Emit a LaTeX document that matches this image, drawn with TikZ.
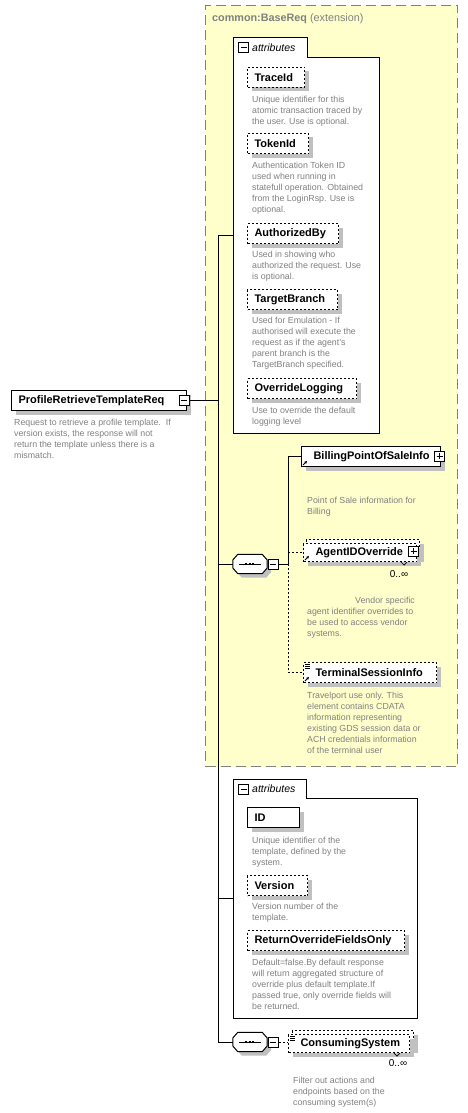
\documentclass[tikz,border=0pt]{standalone}
\usepackage{fontspec}
\setmainfont{Liberation Sans}
\usetikzlibrary{shadows,arrows.meta}
\definecolor{extfill}{HTML}{FFFFCC}
\definecolor{extdash}{HTML}{808080}
\definecolor{notegray}{HTML}{808080}
\definecolor{shadegray}{HTML}{C0C0C0}
\newcommand\xsdlabel{\fontsize{11}{13}\selectfont\bfseries}
\newcommand\xsdnote{\fontsize{8.8}{11}\selectfont}
\tikzset{
  wire/.style={line width=1pt},
  optwire/.style={wire, dash pattern=on 2pt off 2pt},
  shade/.style={drop shadow={shadow xshift=4pt, shadow yshift=-4pt, fill=shadegray, opacity=1}},
  elem/.style={draw=black, fill=white, line width=1pt, shade, anchor=north west, minimum height=20pt, inner xsep=7pt, inner ysep=0pt, text width=#1, align=left, font=\xsdlabel},
  optelem/.style={elem=#1, dash pattern=on 2pt off 2pt},
  notetext/.style={anchor=north west, inner sep=0pt, align=left, text=notegray, font=\xsdnote, execute at begin node={\rule{0pt}{7pt}}},
  occurs/.style={inner sep=0pt, font=\fontsize{10}{12}\selectfont},
  extframe/.style={draw=extdash, fill=extfill, line width=1pt, dash pattern=on 10pt off 5pt, anchor=north west, inner sep=0pt},
  attrarea/.style={anchor=north west, inner sep=0pt},
  attrtab/.style={anchor=north west, inner sep=0pt, minimum height=19pt, minimum width=74pt},
  frame/.style={draw=black, fill=white, line width=1pt},
  togglebox/.style={draw=black, fill=white, line width=1pt, minimum size=10pt, inner sep=0pt},
  collapsebox/.style={togglebox, path picture={
      \draw[line width=1pt] ([xshift=2pt]path picture bounding box.west) -- ([xshift=-2pt]path picture bounding box.east);}},
  expandbox/.style={togglebox, path picture={
      \draw[line width=1pt] ([xshift=2pt]path picture bounding box.west) -- ([xshift=-2pt]path picture bounding box.east);
      \draw[line width=1pt] ([yshift=-2pt]path picture bounding box.north) -- ([yshift=2pt]path picture bounding box.south);}},
  compositor/.style={minimum width=34pt, minimum height=19pt, inner sep=0pt}
}
\newcommand\refmark[1]{\draw[line width=0.8pt, -{Triangle[length=2.5pt,width=2.5pt]}] ([xshift=2pt,yshift=2pt]#1.south west) -- ++(4,-4);}
\newcommand\listmark[1]{\foreach \k in {2,4,6} \draw[line width=0.7pt] ([xshift=2pt,yshift=-\k pt]#1.north west) -- ++(5,0);}
\newcommand\seqmark[1]{%
  \draw[frame, shade] ([yshift=4pt]#1.west) -- ([xshift=5pt]#1.north west) -- ([xshift=-5pt]#1.north east) -- ([yshift=4pt]#1.east)
    -- ([yshift=-4pt]#1.east) -- ([xshift=-5pt]#1.south east) -- ([xshift=5pt]#1.south west) -- ([yshift=-4pt]#1.west) -- cycle;
  \draw[wire] ([xshift=6pt]#1.west) -- ([xshift=-6pt]#1.east);
  \draw[line width=2.2pt, dash pattern=on 2pt off 1.5pt] ([xshift=-5pt]#1.center) -- ([xshift=5pt]#1.center);}

\begin{document}
\begin{tikzpicture}[x=1pt,y=-1pt]
  \useasboundingbox (0,0) rectangle (468,1113);

  % extension base
  \node[extframe, minimum width=252pt, minimum height=761pt] (baseReq) at (205,5) {};
  \node[anchor=west, inner sep=0pt, text=notegray, font=\fontsize{10.8}{12}\selectfont] (baseReqTitle) at (212,19) {\textbf{common:BaseReq} (extension)};

  % inherited attributes
  \node[attrarea, minimum width=146pt, minimum height=395pt] (baseAttrs) at (233,38) {};
  \node[attrtab] (baseTab) at (233,38) {};
  \draw[frame] (baseAttrs.south west) |- (baseTab.north east) |- (baseTab.south east -| baseAttrs.east) -- (baseAttrs.south east) -- cycle;
  \node[collapsebox] (baseTabT) at (243.5,48) {};
  \node[anchor=west, inner sep=0pt, font=\fontsize{10.5}{12}\selectfont\itshape] at (252,48) {attributes};

  \node[optelem=43pt] (traceId) at (247,67) {TraceId};
  \node[notetext] at (252,96) {Unique identifier for this\\atomic transaction traced by\\the user. Use is optional.};
  \node[optelem=47pt] (tokenId) at (247,133) {TokenId};
  \node[notetext] at (252,162) {Authentication Token ID\\used when running in\\statefull operation. Obtained\\from the LoginRsp. Use is\\optional.};
  \node[optelem=77pt] (authorizedBy) at (247,223) {AuthorizedBy};
  \node[notetext] at (252,251) {Used in showing who\\authorized the request. Use\\is optional.};
  \node[optelem=76pt] (targetBranch) at (247,289) {TargetBranch};
  \node[notetext] at (252,317) {Used for Emulation - If\\authorised will execute the\\request as if the agent's\\parent branch is the\\TargetBranch specified.};
  \node[optelem=95pt] (overrideLogging) at (247,378) {OverrideLogging};
  \node[notetext] at (252,407) {Use to override the default\\logging level};

  % root element
  \node[elem=161pt] (root) at (11,390) {ProfileRetrieveTemplateReq};
  \node[collapsebox] (rootT) at (184,400) {};
  \node[notetext] at (14,419) {Request to retrieve a profile template.\ \ If\\version exists, the response will not\\return the template unless there is a\\mismatch.};

  % inherited sequence
  \node[compositor] (baseSeq) at (250,564) {};
  \seqmark{baseSeq}
  \node[collapsebox] (baseSeqT) at (273,564) {};
  \coordinate (baseFork) at (288,564);

  \node[elem=125pt] (billing) at (301,446) {\hspace*{5pt}BillingPointOfSaleInfo};
  \node[expandbox] (billingT) at (439.5,456) {};
  \refmark{billing}
  \node[notetext] at (307,497) {Point of Sale information for\\Billing};

  \node[optelem=99pt, minimum height=18pt, drop shadow={opacity=0}] (agentBack) at (306,539) {};
  \node[optelem=99pt, minimum height=18pt] (agent) at (303,543) {\hspace*{5pt}AgentIDOverride};
  \node[expandbox] (agentT) at (413.5,551) {};
  \refmark{agent}
  \draw[line width=0.7pt] ([xshift=-16pt]agent.south east) -- ++(3,3) -- ++(3,-3);
  \node[occurs] (agentOccurs) at (399,574) {0..∞};
  \node[notetext] at (307,597) {\hspace*{48pt}Vendor specific\\agent identifier overrides to\\be used to access vendor\\systems.};

  \node[optelem=119pt] (terminal) at (303,662) {\hspace*{5pt}TerminalSessionInfo};
  \refmark{terminal}
  \listmark{terminal}
  \node[notetext] at (307,692) {Travelport use only. This\\element contains CDATA\\information representing\\existing GDS session data or\\ACH credentials information\\of the terminal user};

  % own attributes
  \node[attrarea, minimum width=184pt, minimum height=239pt] (reqAttrs) at (233,779) {};
  \node[attrtab, minimum width=73pt] (reqTab) at (233,779) {};
  \draw[frame] (reqAttrs.south west) |- (reqTab.north east) |- (reqTab.south east -| reqAttrs.east) -- (reqAttrs.south east) -- cycle;
  \node[collapsebox] (reqTabT) at (243.5,789) {};
  \node[anchor=west, inner sep=0pt, font=\fontsize{10.5}{12}\selectfont\itshape] at (252,789) {attributes};

  \node[elem=38pt] (id) at (247,807) {ID};
  \node[notetext] at (252,837) {Unique identifier of the\\template, defined by the\\system.};
  \node[optelem=46pt] (version) at (247,875) {Version};
  \node[notetext] at (252,903) {Version number of the\\template.};
  \node[optelem=143pt] (returnOnly) at (247,930) {ReturnOverrideFieldsOnly};
  \node[notetext] at (252,959) {Default=false.By default response\\will return aggregated structure of\\override plus default template.If\\passed true, only override fields will\\be returned.};

  % own sequence
  \node[compositor] (reqSeq) at (250,1042) {};
  \seqmark{reqSeq}
  \node[collapsebox] (reqSeqT) at (273,1042) {};
  \node[optelem=107pt, minimum height=18pt, drop shadow={opacity=0}] (consumingBack) at (292,1030) {};
  \node[optelem=107pt, minimum height=18pt] (consuming) at (288,1034) {\hspace*{5pt}ConsumingSystem};
  \listmark{consuming}
  \draw[line width=0.7pt] ([xshift=-16pt]consuming.south east) -- ++(3,3) -- ++(3,-3);
  \node[occurs] (consumingOccurs) at (398,1063) {0..∞};
  \node[notetext] at (293,1077) {Filter out actions and\\endpoints based on the\\consuming system(s)};

  % connectors
  \coordinate (spine) at (218,0);
  \draw[wire] (baseAttrs.west) -- (baseAttrs.west -| spine) |- (reqSeq.west);
  \draw[wire] (rootT.east) -- (rootT.east -| spine);
  \draw[wire] (baseSeq.west -| spine) -- (baseSeq.west);
  \draw[wire] (reqAttrs.west -| spine) -- (reqAttrs.west);
  \draw[wire] (baseSeqT.east) -- (baseFork) |- (billing.west);
  \draw[optwire] (baseFork) |- (terminal.west);
  \draw[optwire] (agent.west -| baseFork) -- (agent.west);
  \draw[optwire] (reqSeqT.east) -- (reqSeqT.east -| consuming.west);
\end{tikzpicture}
\end{document}
